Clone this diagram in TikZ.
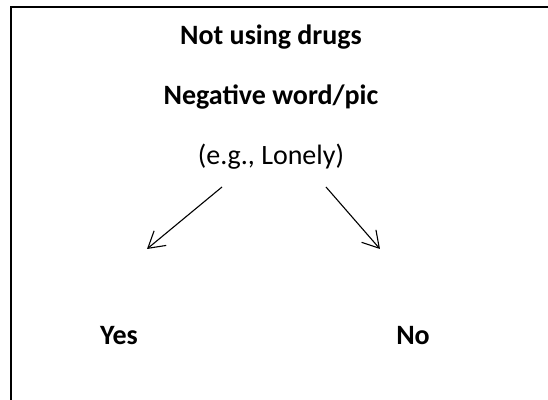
\documentclass[tikz,border=0pt]{standalone}
\usepackage{fontspec}
\setmainfont{Carlito}
\usetikzlibrary{arrows.meta}
\tikzset{
	label text/.style={anchor=base, inner sep=0pt, font=\fontsize{14}{17}\selectfont},
	answer arrow/.style={line width=0.55pt, -{Straight Barb[length=8pt, width=9.5pt, line width=0.55pt]}}
}
\begin{document}
\begin{tikzpicture}[x=0.5pt, y=-0.5pt]
		\useasboundingbox[fill=white] (0, 0) rectangle (548, 400);
		\draw[line width=0.6pt] (11, 410) -- (11, 7) -- (560, 7);
		\node[label text] (title) at (271, 45) {\bfseries Not using drugs};
		\node[label text] (cue) at (271, 105) {\bfseries Negative word/pic};
		\node[label text] (example) at (271, 165) {(e.g., Lonely)};
		\node[label text] (yes) at (119, 345) {\bfseries Yes};
		\node[label text] (no) at (413, 345) {\bfseries No};
		\coordinate (yes start) at (222, 187);
		\coordinate (yes end) at (147, 249);
		\coordinate (no start) at (326, 187);
		\coordinate (no end) at (380, 249);
		\draw[answer arrow] (yes start) -- (yes end);
		\draw[answer arrow] (no start) -- (no end);
	\end{tikzpicture}
\end{document}
